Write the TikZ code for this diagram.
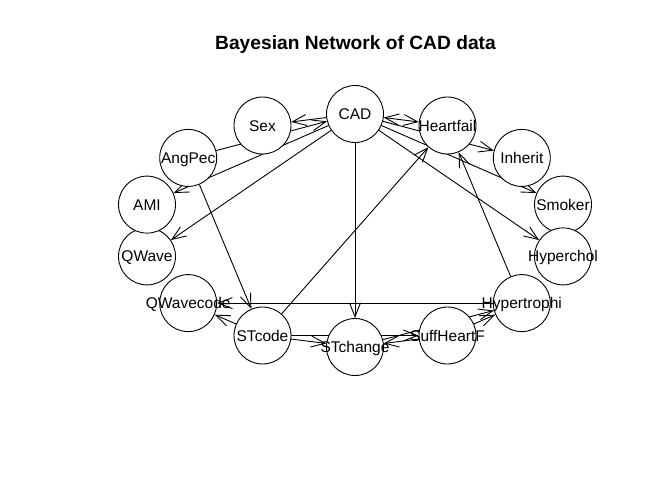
\documentclass[tikz,border=0pt]{standalone}
\usepackage{fontspec}
\setmainfont{Liberation Sans}
\usetikzlibrary{arrows.meta,backgrounds}
\begin{document}
\begin{tikzpicture}[x=1pt,y=-1pt,
  vnode/.style={circle, draw=black, fill=white, line width=0.9pt,
    minimum size=57pt, inner sep=0pt, text height=11.1pt, text depth=0pt,
    font=\fontsize{15.5}{18}\selectfont},
  arc/.style={line width=0.9pt, -{Straight Barb[length=14pt,width=11pt]}},
  biarc/.style={line width=0.9pt, {Straight Barb[length=14pt,width=11pt]}-{Straight Barb[length=14pt,width=11pt]}},
  titlestyle/.style={anchor=base, font=\bfseries\fontsize{19.2}{22}\selectfont}
]
\useasboundingbox (0,0) rectangle (672,480);
\node[titlestyle] (title) at (355.5,49) {Bayesian Network of CAD data};

\node[vnode] (CAD)         at (355.0,114.0) {\makebox[0pt]{CAD}};
\node[vnode] (Heartfail)   at (447.5,125.5) {\makebox[0pt]{Heartfail}};
\node[vnode] (Inherit)     at (521.8,157.9) {\makebox[0pt]{Inherit}};
\node[vnode] (Smoker)      at (563.0,204.6) {\makebox[0pt]{Smoker}};
\node[vnode] (Hyperchol)   at (563.0,256.4) {\makebox[0pt]{Hyperchol}};
\node[vnode] (Hypertrophi) at (521.8,303.1) {\makebox[0pt]{Hypertrophi}};
\node[vnode] (SuffHeartF)  at (447.5,335.5) {\makebox[0pt]{SuffHeartF}};
\node[vnode] (STchange)    at (355.0,347.0) {\makebox[0pt]{STchange}};
\node[vnode] (STcode)      at (262.5,335.5) {\makebox[0pt]{STcode}};
\node[vnode] (QWavecode)   at (188.2,303.1) {\makebox[0pt]{QWavecode}};
\node[vnode] (QWave)       at (147.0,256.4) {\makebox[0pt]{QWave}};
\node[vnode] (AMI)         at (147.0,204.6) {\makebox[0pt]{AMI}};
\node[vnode] (AngPec)      at (188.2,157.9) {\makebox[0pt]{AngPec}};
\node[vnode] (Sex)         at (262.5,125.5) {\makebox[0pt]{Sex}};

\begin{scope}[on background layer]
\draw[arc] (CAD) -- (Sex);
\draw[arc] (AngPec) -- (CAD);
\draw[arc] (CAD) -- (AMI);
\draw[arc] (CAD) -- (QWave);
\draw[arc] (CAD) -- (STchange);
\draw[biarc] (CAD) -- (Heartfail);
\draw[arc] (CAD) -- (Inherit);
\draw[arc] (CAD) -- (Smoker);
\draw[arc] (CAD) -- (Hyperchol);
\draw[arc] (Hypertrophi) -- (Heartfail);
\draw[arc] (STcode) -- (Heartfail);
\draw[arc] (AngPec) -- (STcode);
\draw[arc] (Hypertrophi) -- (QWavecode);
\draw[arc] (STcode) -- (QWavecode);
\draw[arc] (STcode) -- (STchange);
\draw[arc] (STcode) -- (SuffHeartF);
\draw[arc] (SuffHeartF) -- (STchange);
\draw[arc] (STchange) -- (Hypertrophi);
\draw[arc] (SuffHeartF) -- (Hypertrophi);
\end{scope}
\end{tikzpicture}
\end{document}
